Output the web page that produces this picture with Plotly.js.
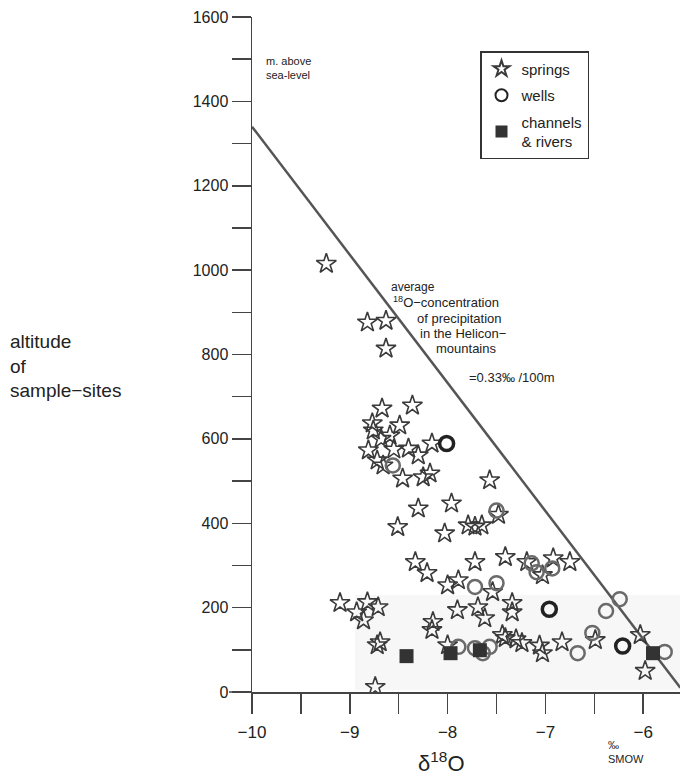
<!DOCTYPE html>
<html>
<head>
<meta charset="utf-8">
<script src="https://cdn.plot.ly/plotly-3.0.1.min.js"></script>
<style>
html,body{margin:0;padding:0;background:#fff;}
#chart{width:680px;height:777px;}
</style>
</head>
<body>
<div id="chart"></div>
<script>
// ---- data ----
const springsX = [-9.24,-8.82,-8.63,-8.63,-8.67,-8.36,-8.49,-8.76,-8.59,-8.81,-8.40,-8.30,-8.66,-8.46,-8.18,-8.25,-8.16,-8.77,-8.72,-8.55,-8.68,
  -7.57,-7.48,-8.30,-7.96,-8.51,-8.03,-7.79,-7.65,-7.72,
  -8.33,-8.21,-8.00,-7.89,-7.72,-7.41,-7.54,
  -9.10,-8.82,-8.71,-8.93,-8.86,-8.69,-8.72,-8.15,-8.16,-7.90,-7.69,-7.62,-7.34,-7.34,-8.00,-7.44,-8.74,
  -7.19,-7.03,-6.92,-6.75,-6.49,-6.83,-7.03,-7.24,-7.41,-6.03,-5.98,-7.06,-7.30];
const springsY = [1015,876,880,814,672,679,632,620,608,573,577,561,537,506,518,509,589,637,549,575,600,
  502,420,435,447,391,376,395,395,392,
  308,282,253,265,308,320,237,
  211,213,201,189,170,118,111,166,147,194,201,175,211,189,111,135,12,
  308,277,317,308,123,118,92,116,128,135,50,110,125];

const wellsDarkX = [-8.01,-6.96,-6.21];
const wellsDarkY = [589,196,109];
const wellsGreyX = [-8.56,-7.50,-7.72,-7.50,-7.89,-7.72,-7.64,-7.57,-7.14,-7.09,-6.93,-6.38,-6.24,-6.52,-6.67,-5.78];
const wellsGreyY = [537,430,249,258,107,104,92,107,305,284,293,192,220,140,92,95];

const channelsX = [-8.42,-7.97,-7.67,-5.90];
const channelsY = [85,92,99,92];

const gradientX = [-10.0,-5.62];
const gradientY = [1340,10];

const xTickVals = [-10,-9,-8,-7,-6];
const xTickText = ["\u221210","\u22129","\u22128","\u22127","\u22126"];
const yTickVals = [0,200,400,600,800,1000,1200,1400,1600];
const yTickText = ["0","200","400","600","800","1000","1200","1400","1600"];

const seriesNames = ["springs","wells","channels<br>& rivers"];

// ---- layout helpers (pixel -> paper) ----
const L = 252, T = 17, W = 428, H = 675;
const px = v => (v - L) / W;
const py = v => (T + H - v) / H;

const FONT = "Liberation Sans, Arial, sans-serif";

const traces = [
  {x: gradientX, y: gradientY, mode: 'lines', line: {color: '#555', width: 2.5}, showlegend: false, hoverinfo: 'skip'},
  {x: springsX, y: springsY, mode: 'markers', name: seriesNames[0],
   marker: {symbol: 'star-open', size: 15, color: '#3a3a3a', line: {width: 1.6}}},
  {x: wellsGreyX, y: wellsGreyY, mode: 'markers', name: seriesNames[1], legendgroup: 'w', showlegend: false,
   marker: {symbol: 'circle-open', size: 14, color: '#6a6a6a', line: {width: 2.5}}},
  {x: wellsDarkX, y: wellsDarkY, mode: 'markers', name: seriesNames[1], legendgroup: 'w',
   marker: {symbol: 'circle-open', size: 14, color: '#222', line: {width: 3.5}}},
  {x: channelsX, y: channelsY, mode: 'markers', name: seriesNames[2],
   marker: {symbol: 'square', size: 14, color: '#333', line: {width: 0}}}
];

const ann = (text, x, y, size, opts) => Object.assign({
  text: text, xref: 'paper', yref: 'paper', x: px(x), y: py(y),
  xanchor: 'left', yanchor: 'middle', showarrow: false,
  font: {family: FONT, size: size, color: '#222'}
}, opts || {});

const axisCommon = {
  ticks: 'outside', tickwidth: 1.5, tickcolor: '#444',
  showline: true, linecolor: '#444', linewidth: 1.5, showgrid: false, zeroline: false
};

const layout = {
  width: 680, height: 777,
  margin: {l: L, r: 0, t: T, b: 777 - T - H, pad: 0},
  paper_bgcolor: '#fff', plot_bgcolor: 'rgba(0,0,0,0)',
  showlegend: true,
  legend: {x: px(480), y: py(51), xanchor: 'left', yanchor: 'top',
    bordercolor: '#333', borderwidth: 1.5, bgcolor: '#fff',
    font: {family: FONT, size: 15, color: '#222'}, tracegroupgap: 4, itemsizing: 'constant'},
  xaxis: Object.assign({}, axisCommon, {range: [-10, -10 + W / 97.8], tickmode: 'array',
    tickvals: xTickVals, ticktext: xTickText, ticklen: 20, ticklabelstandoff: 4,
    minor: {dtick: 0.5, ticks: 'outside', ticklen: 20, tickwidth: 1.5, tickcolor: '#444', showgrid: false},
    tickfont: {family: FONT, size: 17, color: '#222'}}),
  yaxis: Object.assign({}, axisCommon, {range: [0, 1600], tickmode: 'array',
    tickvals: yTickVals, ticktext: yTickText, ticklen: 19,
    minor: {dtick: 100, ticks: 'outside', ticklen: 19, tickwidth: 1.5, tickcolor: '#444', showgrid: false},
    tickfont: {family: FONT, size: 16, color: '#222'}}),
  shapes: [
    {type: 'rect', xref: 'paper', yref: 'paper', x0: px(355), x1: 1, y0: py(690), y1: py(595),
     fillcolor: '#f7f7f7', line: {width: 0}, layer: 'below'},
    {type: 'line', xref: 'paper', yref: 'paper', x0: px(229), x1: 0, y0: 0, y1: 0,
     line: {color: '#444', width: 1.5}}
  ],
  annotations: [
    ann('m. above<br>sea-level', 264, 68, 11, {align: 'left'}),
    ann('altitude<br>of<br>sample\u2212sites', 8, 366, 19, {align: 'left'}),
    ann('average', 389, 287, 12),
    ann('<sup>18</sup>O\u2212concentration', 391, 302, 13),
    ann('of precipitation', 415, 318, 13),
    ann('in the Helicon\u2212', 418, 333, 13),
    ann('mountains', 434, 348, 13),
    ann('=0.33\u2030 /100m', 467, 377, 13),
    ann('\u03b4<sup>18</sup>O', 416, 762, 22),
    ann('\u2030<br>SMOW', 606, 752, 11, {align: 'left'})
  ]
};

Plotly.newPlot('chart', traces, layout, {displayModeBar: false, staticPlot: true});
</script>
</body>
</html>
